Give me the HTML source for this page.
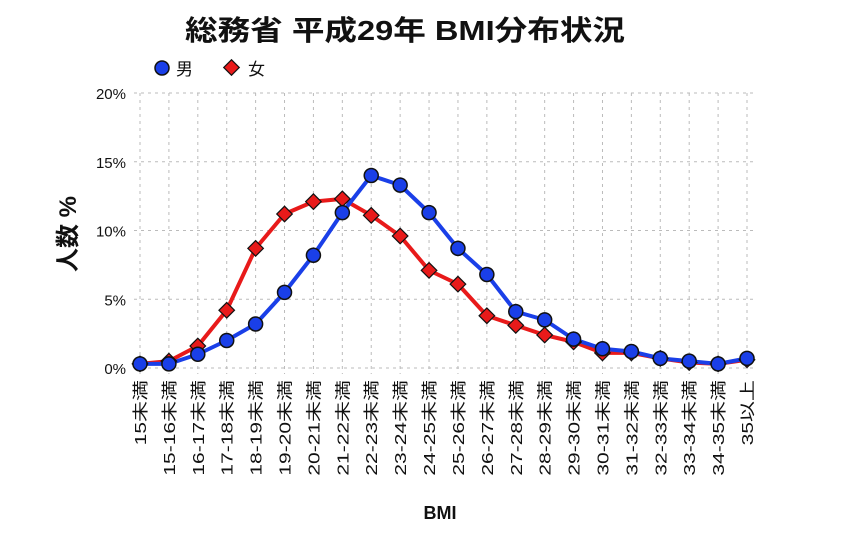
<!DOCTYPE html>
<html><head><meta charset="utf-8"><style>
body{margin:0;background:#fff;}
svg text{font-family:"Liberation Sans","Noto Sans CJK JP",sans-serif;}
</style></head><body>
<svg id="c" width="864" height="537" xmlns="http://www.w3.org/2000/svg">
<text x="185" y="40" textLength="440" lengthAdjust="spacingAndGlyphs" font-size="28" font-weight="bold" fill="#111">総務省 平成29年 BMI分布状況</text>
<g>
<circle cx="162" cy="68" r="7" fill="#1a3fe8" stroke="#111" stroke-width="1.5"/>
<text x="176" y="75" font-size="17" fill="#111">男</text>
<rect x="226" y="62" width="11" height="11" fill="#e81a1a" stroke="#111" stroke-width="1.2" transform="rotate(45 231.5 67.5)"/>
<text x="248" y="75" font-size="17" fill="#111">女</text>
</g>
<text transform="translate(76 234) rotate(-90)" text-anchor="middle" font-size="24" font-weight="bold" fill="#111">人数 %</text>
<text x="440" y="519" text-anchor="middle" font-size="18" font-weight="bold" fill="#111">BMI</text>
<g id="grid"></g><g id="lines"></g><g id="marks"></g><g id="labels"></g>
</svg>
<script>
const categories=["15未満","15-16未満","16-17未満","17-18未満","18-19未満","19-20未満","20-21未満","21-22未満","22-23未満","23-24未満","24-25未満","25-26未満","26-27未満","27-28未満","28-29未満","29-30未満","30-31未満","31-32未満","32-33未満","33-34未満","34-35未満","35以上"];
const male=[0.3,0.3,1.0,2.0,3.2,5.5,8.2,11.3,14.0,13.3,11.3,8.7,6.8,4.1,3.5,2.1,1.4,1.2,0.7,0.5,0.3,0.7];
const female=[0.3,0.5,1.6,4.2,8.7,11.2,12.1,12.3,11.1,9.6,7.1,6.1,3.8,3.1,2.4,1.9,1.1,1.1,0.7,0.4,0.3,0.6];
const yTicks=[0,5,10,15,20];
const NS="http://www.w3.org/2000/svg";
const X0=140,X1=747,Y0=368,Y1=93;
const x=i=>X0+(X1-X0)*i/(categories.length-1);
const y=v=>Y0-(Y0-Y1)*v/20;
function mk(t,a,p){const e=document.createElementNS(NS,t);for(const k in a)e.setAttribute(k,a[k]);document.getElementById(p).appendChild(e);return e;}
yTicks.forEach(t=>{
 const l=mk('line',{x1:X0-6,x2:X1+6,y1:y(t),y2:y(t),stroke:'#bbb','stroke-dasharray':'3,4'},'grid');
 
 
 const tx=mk('text',{x:X0-14,y:y(t)+6,'text-anchor':'end','font-size':'15',fill:'#111'},'grid');
 tx.textContent=t+'%';
 
 
});
categories.forEach((c,i)=>{
 const l=mk('line',{x1:x(i),x2:x(i),y1:Y1,y2:Y0+6,stroke:'#bbb','stroke-dasharray':'3,4'},'grid');
 
 
 const tx=mk('text',{transform:`translate(${x(i)+6} 380) rotate(-90) scale(1.4 1.05)`,'text-anchor':'end','font-size':'15',fill:'#111'},'labels');
 tx.textContent=c;
 
 
});
function series(d,col,name){
 const p=mk('polyline',{points:d.map((v,i)=>x(i)+','+y(v)).join(' '),fill:'none',stroke:col,'stroke-width':4,'stroke-linejoin':'round'},'lines');
 
 
}
series(female,'#e81a1a','female');
series(male,'#1a3fe8','male');
female.forEach((v,i)=>{
 const r=mk('rect',{x:x(i)-5.5,y:y(v)-5.5,width:11,height:11,fill:'#e81a1a',stroke:'#111','stroke-width':1.2,transform:`rotate(45 ${x(i)} ${y(v)})`},'marks');
 
 
});
male.forEach((v,i)=>{
 const c=mk('circle',{cx:x(i),cy:y(v),r:7,fill:'#1a3fe8',stroke:'#111','stroke-width':1.5},'marks');
 
 
});
</script>
</body></html>
